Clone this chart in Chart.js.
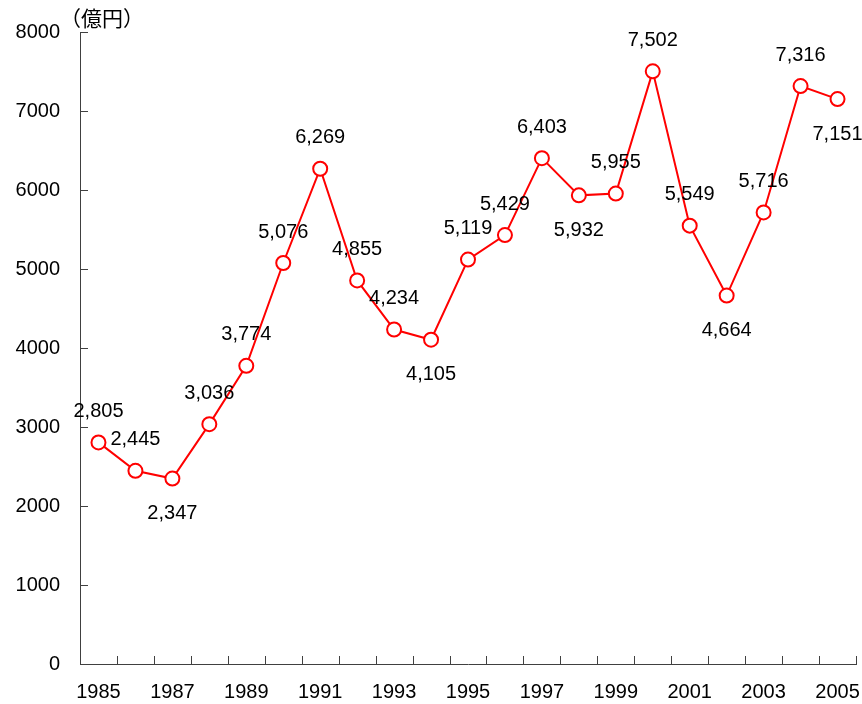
<!DOCTYPE html>
<html>
<head>
<meta charset="utf-8">
<script src="https://cdn.jsdelivr.net/npm/chart.js@4/dist/chart.umd.min.js"></script>
<style>
  html, body { margin: 0; padding: 0; background: #fff; }
  #wrap { width: 862px; height: 704px; }
</style>
</head>
<body>
<div id="wrap"><canvas id="chart" width="862" height="704"></canvas></div>
<script>
// data (unit: 億円)
var years = ['1985','1986','1987','1988','1989','1990','1991','1992','1993','1994','1995',
             '1996','1997','1998','1999','2000','2001','2002','2003','2004','2005'];
var amounts = [2805, 2445, 2347, 3036, 3774, 5076, 6269, 4855, 4234, 4105, 5119,
               5429, 6403, 5932, 5955, 7502, 5549, 4664, 5716, 7316, 7151];
var yTicks = [0, 1000, 2000, 3000, 4000, 5000, 6000, 7000, 8000];
var unitLabel = '（億円）';

// where each value label sits relative to its point
var labelSide = ['up','up','down','up','up','up','up','up','up','down','up',
                 'up','up','down','up','up','up','down','up','up','down'];

var FONT = '"Liberation Sans", Arial, sans-serif';

// inward tick marks + value labels + unit label
var decor = {
  id: 'decor',
  afterDraw: function (chart) {
    var ctx = chart.ctx;
    var xs = chart.scales.x, ys = chart.scales.y;
    var area = chart.chartArea;
    ctx.save();
    ctx.strokeStyle = '#404040';
    ctx.lineWidth = 1;
    var step = xs.getPixelForValue(1) - xs.getPixelForValue(0);
    for (var i = 0; i <= years.length; i++) {
      var x = Math.round(xs.getPixelForValue(0) - step / 2 + i * step) + 0.5;
      ctx.beginPath();
      ctx.moveTo(x, area.bottom);
      ctx.lineTo(x, area.bottom - 8);
      ctx.stroke();
    }
    yTicks.forEach(function (v) {
      var y = Math.round(ys.getPixelForValue(v)) + 0.5;
      ctx.beginPath();
      ctx.moveTo(area.left, y);
      ctx.lineTo(area.left + 8, y);
      ctx.stroke();
    });

    // value labels
    var meta = chart.getDatasetMeta(0);
    ctx.fillStyle = '#000';
    ctx.font = '20px ' + FONT;
    ctx.textAlign = 'center';
    ctx.textBaseline = 'middle';
    meta.data.forEach(function (pt, i) {
      var dy = labelSide[i] === 'down' ? 35 : -31;
      ctx.fillText(amounts[i].toLocaleString('en-US'), pt.x, pt.y + dy);
    });

    // unit
    ctx.font = '21px "Noto Sans CJK JP", sans-serif';
    ctx.textAlign = 'left';
    ctx.fillText(unitLabel, 60, 18);
    ctx.restore();
  }
};

new Chart(document.getElementById('chart').getContext('2d'), {
  type: 'line',
  data: {
    labels: years,
    datasets: [{
      data: amounts,
      borderColor: '#ff0000',
      borderWidth: 2,
      backgroundColor: '#ffffff',
      pointBackgroundColor: '#ffffff',
      pointBorderColor: '#ff0000',
      pointBorderWidth: 2,
      pointRadius: 7,
      tension: 0,
      fill: false,
      clip: false
    }]
  },
  options: {
    responsive: false,
    animation: false,
    events: [],
    layout: { autoPadding: false, padding: { top: 32, right: 6, left: 0, bottom: 0 } },
    plugins: { legend: { display: false }, tooltip: { enabled: false } },
    scales: {
      x: {
        offset: true,
        grid: { display: false, drawTicks: false },
        border: { display: true, color: '#404040', width: 1 },
        ticks: {
          autoSkip: false,
          maxRotation: 0,
          padding: 16,
          color: '#000',
          font: { family: FONT, size: 20 },
          callback: function (v, i) { return i % 2 === 0 ? years[i] : ''; }
        },
        afterFit: function (s) { s.height = 40; s.paddingLeft = 0; s.paddingRight = 0; }
      },
      y: {
        min: 0,
        max: 8000,
        grid: { display: false, drawTicks: false },
        border: { display: true, color: '#404040', width: 1 },
        afterBuildTicks: function (s) { s.ticks = yTicks.map(function (v) { return { value: v }; }); },
        ticks: {
          padding: 20,
          color: '#000',
          font: { family: FONT, size: 20 },
          callback: function (v) { return String(v); }
        },
        afterFit: function (s) { s.width = 80; s.paddingTop = 0; s.paddingBottom = 0; }
      }
    }
  },
  plugins: [decor]
});
</script>
</body>
</html>
